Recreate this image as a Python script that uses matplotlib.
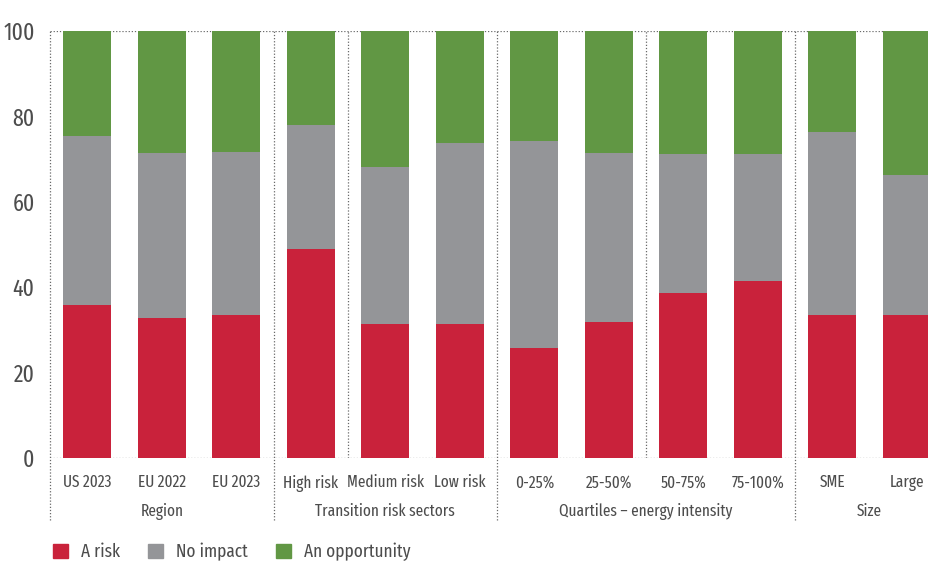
import matplotlib
matplotlib.use("Agg")
import matplotlib.pyplot as plt
from matplotlib.patches import Patch
import matplotlib.transforms as mtransforms
import numpy as np

categories = ["US 2023", "EU 2022", "EU 2023",
              "High risk", "Medium risk", "Low risk",
              "0-25%", "25-50%", "50-75%", "75-100%",
              "SME", "Large"]
groups = ["Region", "Transition risk sectors", "Quartiles \u2013 energy intensity", "Size"]
group_sizes = [3, 3, 4, 2]

a_risk = [35.8, 32.8, 33.5, 48.9, 31.4, 31.4, 25.8, 31.9, 38.7, 41.5, 33.5, 33.5]
no_impact = [39.6, 38.6, 38.2, 29.1, 36.7, 42.4, 48.5, 39.5, 32.5, 29.7, 42.8, 32.8]
opportunity = [24.6, 28.6, 28.3, 22.0, 31.9, 26.2, 25.7, 28.6, 28.8, 28.8, 23.7, 33.7]

red = "#C9223B"
grey = "#949598"
green = "#619744"
txt = "#4d4d4d"
line_col = "#6a6a6a"

plt.rcParams['font.family'] = ['Fira Sans Extra Condensed', 'DejaVu Sans']

fig = plt.figure(figsize=(9.29, 5.63), dpi=100)
# axes run a bit past the right edge, like the original
ax = fig.add_axes([50 / 929, 105 / 563, 894 / 929, 427 / 563])

x = np.arange(len(categories))
r = np.array(a_risk)
n = np.array(no_impact)
o = np.array(opportunity)
w = 0.64
ax.bar(x, r, w, color=red, label="A risk")
ax.bar(x, n, w, bottom=r, color=grey, label="No impact")
ax.bar(x, o, w, bottom=r + n, color=green, label="An opportunity")

ax.set_xlim(-0.5, 11.5)
ax.set_ylim(0, 100)
for s in ax.spines.values():
    s.set_visible(False)
ax.set_yticks([0, 20, 40, 60, 80, 100])
ax.tick_params(axis="y", length=0, pad=11, labelsize=17, labelcolor=txt)
ax.set_xticks(x)
ax.set_xticklabels(categories)
ax.tick_params(axis="x", length=0, pad=12, labelsize=12, labelcolor=txt)

# dotted frame lines
ls = (0, (1, 1.5))
ax.axhline(0, color=line_col, lw=0.9, ls=ls, zorder=0)
ax.axhline(100, color=line_col, lw=0.9, ls=ls, zorder=0)
for xv in [3.5, 7.5]:
    ax.axvline(xv, color=line_col, lw=0.9, ls=ls, zorder=0)

trans = mtransforms.blended_transform_factory(ax.transData, ax.transAxes)
edges = np.concatenate([[0], np.cumsum(group_sizes)]) - 0.5
for xv in edges[:-1]:
    ax.plot([xv, xv], [-0.145, 1], color=line_col, lw=0.9, ls=ls,
            transform=trans, clip_on=False, zorder=0)

for i, g in enumerate(groups):
    mid = (edges[i] + edges[i + 1]) / 2
    ax.text(mid, -0.125, g, transform=trans, ha="center", va="center",
            fontsize=12, color=txt)

handles = [Patch(color=red, label="A risk"),
           Patch(color=grey, label="No impact"),
           Patch(color=green, label="An opportunity")]
fig.legend(handles=handles, loc="center left", bbox_to_anchor=(36 / 929, 1 - 552 / 563),
           ncol=3, frameon=False, fontsize=13.5, labelcolor=txt,
           handlelength=0.8, handleheight=0.8, handletextpad=0.7, columnspacing=1.5)

fig.savefig("out.png", dpi=100)
